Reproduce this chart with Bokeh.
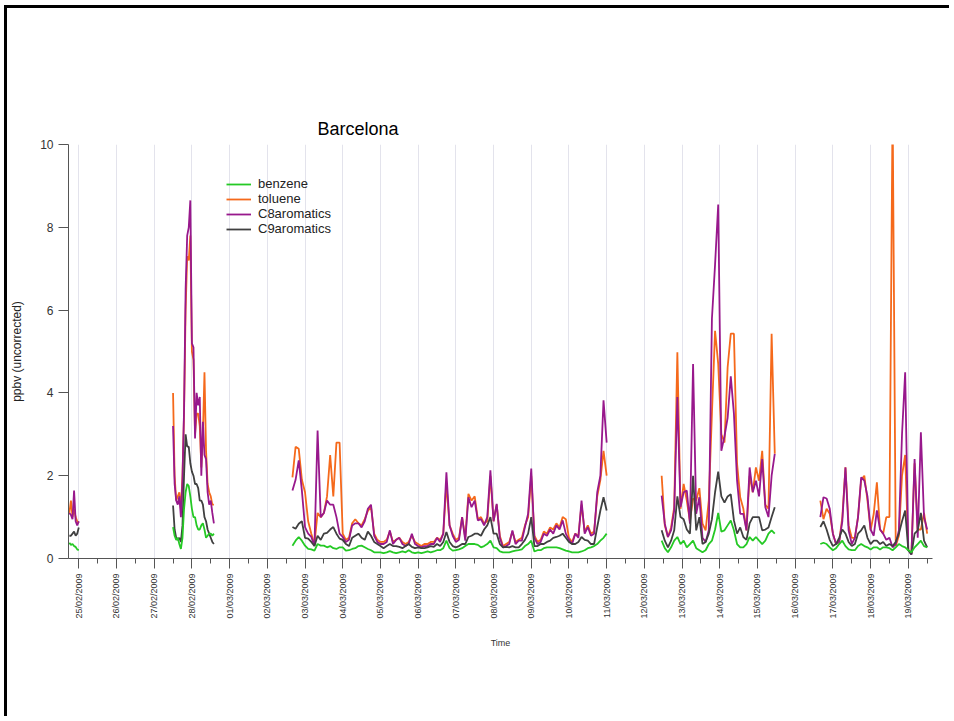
import math
from bokeh.plotting import figure
from bokeh.models import Range1d, FixedTicker, Legend, LegendItem
from bokeh.embed import file_html
from bokeh.resources import INLINE

# ---------------- data ----------------
# tick labels (one per day, midnight)
tick_labels = ["25/02/2009", "26/02/2009", "27/02/2009", "28/02/2009", "01/03/2009",
               "02/03/2009", "03/03/2009", "04/03/2009", "05/03/2009", "06/03/2009",
               "07/03/2009", "08/03/2009", "09/03/2009", "10/03/2009", "11/03/2009",
               "12/03/2009", "13/03/2009", "14/03/2009", "15/03/2009", "16/03/2009",
               "17/03/2009", "18/03/2009", "19/03/2009"]

# sampling of each measurement segment: (start hour after 25/02/2009 00:00, step in hours)
segment_start_h = [-6, 60, 136, 371, 472]
segment_step_h = [1, 1, 2, 2, 2]

benzene = [
    [0.38, 0.33, 0.35, 0.30, 0.28, 0.22, 0.20],
    [0.76, 0.55, 0.45, 0.5, 0.35, 0.23, 0.5, 1.2, 1.6, 1.8,
     1.75, 1.5, 1.2, 1.0, 1.0, 0.8, 0.7, 0.7, 0.8, 0.85,
     0.7, 0.5, 0.55, 0.6, 0.6, 0.55, 0.6],
    [0.31, 0.43, 0.52, 0.43, 0.31, 0.23, 0.22, 0.19, 0.35, 0.31,
     0.31, 0.27, 0.3, 0.25, 0.23, 0.27, 0.27, 0.19, 0.2, 0.23,
     0.25, 0.3, 0.31, 0.27, 0.23, 0.2, 0.15, 0.15, 0.15, 0.13,
     0.15, 0.18, 0.15, 0.13, 0.15, 0.17, 0.15, 0.2, 0.15, 0.13,
     0.15, 0.13, 0.15, 0.17, 0.15, 0.17, 0.2, 0.2, 0.25, 0.43,
     0.25, 0.19, 0.2, 0.22, 0.25, 0.3, 0.35, 0.35, 0.35, 0.33,
     0.27, 0.3, 0.35, 0.43, 0.27, 0.25, 0.17, 0.15, 0.15, 0.15,
     0.17, 0.19, 0.2, 0.22, 0.3, 0.35, 0.43, 0.17, 0.2, 0.2,
     0.25, 0.27, 0.27, 0.27, 0.27, 0.25, 0.22, 0.19, 0.17, 0.15,
     0.15, 0.15, 0.17, 0.2, 0.25, 0.27, 0.3, 0.35, 0.43, 0.5,
     0.6],
    [0.43, 0.25, 0.15, 0.27, 0.43, 0.52, 0.35, 0.43, 0.27, 0.35,
     0.43, 0.25, 0.2, 0.15, 0.2, 0.35, 0.43, 0.7, 1.1, 0.65,
     0.68, 0.8, 0.92, 0.68, 0.35, 0.27, 0.27, 0.35, 0.52, 0.43,
     0.52, 0.43, 0.35, 0.43, 0.6, 0.68, 0.6],
    [0.35, 0.38, 0.35, 0.27, 0.2, 0.25, 0.35, 0.43, 0.3, 0.22,
     0.2, 0.2, 0.3, 0.35, 0.3, 0.27, 0.22, 0.27, 0.27, 0.22,
     0.27, 0.27, 0.25, 0.2, 0.27, 0.35, 0.3, 0.27, 0.2, 0.15,
     0.27, 0.35, 0.43, 0.3, 0.27],
]

toluene = [
    [1.1, 1.4, 1.0, 1.2, 1.0, 0.9, 0.85],
    [4.0, 2.0, 1.4, 1.5, 1.6, 1.2, 2.0, 3.5, 6.0, 7.3,
     7.2, 7.8, 5.0, 4.8, 3.0, 3.5, 3.5, 3.2, 2.2, 3.0,
     4.5, 2.6, 1.8, 1.6, 1.5, 1.3, 1.3],
    [1.96, 2.7, 2.65, 1.9, 1.6, 0.9, 0.6, 0.35, 1.1, 1.0,
     1.1, 1.5, 2.5, 1.5, 2.8, 2.8, 0.6, 0.45, 0.5, 0.85,
     0.95, 0.85, 0.8, 0.95, 1.15, 1.25, 0.6, 0.45, 0.4, 0.4,
     0.45, 0.65, 0.4, 0.45, 0.5, 0.4, 0.35, 0.4, 0.55, 0.4,
     0.35, 0.3, 0.35, 0.35, 0.4, 0.4, 0.5, 0.45, 0.6, 1.8,
     0.8, 0.6, 0.45, 0.5, 1.0, 0.5, 1.56, 1.4, 1.5, 0.95,
     1.0, 0.85, 0.9, 2.0, 0.9, 1.3, 0.55, 0.3, 0.35, 0.4,
     0.65, 0.4, 0.45, 0.5, 0.8, 1.0, 2.0, 0.55, 0.4, 0.45,
     0.65, 0.6, 0.75, 0.7, 0.85, 0.75, 1.0, 0.95, 0.5, 0.4,
     0.6, 0.55, 1.3, 0.65, 0.8, 0.6, 0.65, 1.5, 1.9, 2.6,
     2.0],
    [2.0, 0.8, 0.52, 0.75, 1.24, 4.98, 1.2, 1.8, 1.4, 0.9,
     1.45, 1.4, 1.7, 0.84, 0.68, 1.4, 3.5, 5.5, 4.7, 3.0,
     2.8, 4.62, 5.43, 5.43, 2.29, 1.48, 1.2, 0.68, 2.0, 1.6,
     2.2, 1.88, 2.6, 1.3, 1.2, 5.43, 2.53],
    [1.4, 0.95, 1.2, 1.08, 0.6, 0.35, 0.4, 1.0, 2.2, 0.8,
     0.5, 0.5, 1.0, 1.9, 2.0, 1.4, 0.68, 1.08, 1.84, 0.7,
     0.6, 1.0, 1.0, 11.0, 0.3, 0.55, 2.0, 2.5, 0.2, 0.12,
     2.3, 0.7, 0.7, 1.1, 0.6],
]

c8_aromatics = [
    [1.1, 1.05, 0.95, 1.64, 0.9, 0.8, 0.9],
    [3.2, 1.8, 1.4, 1.3, 1.5, 1.0, 1.9, 3.6, 6.5, 7.8,
     8.0, 8.65, 5.2, 5.1, 2.9, 4.0, 3.7, 3.9, 2.0, 3.3,
     2.5, 2.4, 1.6, 1.3, 1.4, 1.1, 0.85],
    [1.64, 1.9, 2.37, 1.64, 0.76, 0.6, 0.52, 0.3, 3.09, 1.0,
     1.1, 1.4, 1.3, 1.3, 1.0, 0.6, 0.52, 0.4, 0.45, 0.8,
     0.85, 0.85, 0.75, 0.9, 1.2, 1.3, 0.55, 0.4, 0.35, 0.35,
     0.4, 0.68, 0.35, 0.45, 0.5, 0.35, 0.3, 0.35, 0.6, 0.35,
     0.3, 0.27, 0.3, 0.3, 0.35, 0.35, 0.5, 0.4, 0.6, 2.08,
     0.8, 0.55, 0.4, 0.45, 1.0, 0.43, 1.48, 1.24, 1.4, 0.92,
     0.95, 0.8, 1.0, 2.13, 0.9, 1.32, 0.5, 0.27, 0.3, 0.35,
     0.68, 0.35, 0.43, 0.43, 0.76, 1.08, 2.17, 0.5, 0.35, 0.4,
     0.6, 0.55, 0.7, 0.6, 0.8, 0.7, 0.92, 0.6, 0.45, 0.35,
     0.6, 0.5, 1.4, 0.6, 0.76, 0.55, 0.6, 1.6, 2.0, 3.82,
     2.8],
    [1.52, 0.84, 0.52, 0.68, 1.16, 3.9, 1.24, 1.6, 1.64, 0.84,
     4.7, 1.08, 1.48, 0.5, 0.4, 0.68, 5.79, 7.1, 8.55, 2.6,
     2.95, 3.4, 4.4, 3.5, 1.88, 1.08, 1.08, 0.68, 2.2, 1.6,
     1.88, 1.5, 2.4, 1.24, 1.0, 2.0, 2.53],
    [1.0, 1.48, 1.45, 1.2, 0.6, 0.35, 0.4, 0.9, 2.2, 0.68,
     0.35, 0.5, 1.0, 1.96, 1.88, 1.5, 0.7, 0.55, 1.16, 0.7,
     0.6, 0.45, 0.5, 0.27, 0.35, 0.68, 3.0, 4.5, 0.2, 0.1,
     2.4, 0.5, 3.05, 1.0, 0.7],
]

c9_aromatics = [
    [0.55, 0.55, 0.6, 0.65, 0.55, 0.6, 0.75],
    [1.28, 0.7, 0.5, 0.45, 0.5, 0.4, 0.8, 2.0, 3.0, 2.7,
     2.7, 2.3, 2.1, 2.0, 1.8, 1.8, 1.7, 1.4, 1.4, 1.3,
     1.0, 0.9, 0.7, 0.6, 0.5, 0.4, 0.35],
    [0.76, 0.72, 0.84, 0.9, 0.5, 0.48, 0.4, 0.3, 0.55, 0.45,
     0.6, 0.62, 0.7, 0.76, 0.6, 0.48, 0.45, 0.35, 0.3, 0.5,
     0.55, 0.6, 0.5, 0.45, 0.65, 0.55, 0.4, 0.35, 0.3, 0.25,
     0.3, 0.35, 0.3, 0.3, 0.28, 0.25, 0.3, 0.35, 0.28, 0.25,
     0.27, 0.25, 0.25, 0.27, 0.3, 0.28, 0.35, 0.3, 0.4, 0.64,
     0.4, 0.3, 0.27, 0.3, 0.35, 0.35, 0.52, 0.55, 0.6, 0.6,
     0.55, 0.7, 0.8, 1.0, 0.6, 0.6, 0.35, 0.27, 0.28, 0.27,
     0.3, 0.27, 0.27, 0.35, 0.45, 0.6, 1.0, 0.3, 0.3, 0.35,
     0.35, 0.4, 0.43, 0.5, 0.52, 0.55, 0.6, 0.5, 0.4, 0.35,
     0.35, 0.4, 0.52, 0.45, 0.43, 0.35, 0.35, 0.76, 1.16, 1.48,
     1.16],
    [0.68, 0.43, 0.27, 0.43, 0.68, 1.5, 1.0, 0.95, 0.7, 0.6,
     2.0, 0.68, 1.0, 0.35, 0.4, 0.6, 0.95, 1.6, 2.1, 1.5,
     1.35, 1.5, 1.55, 0.92, 0.6, 0.75, 0.52, 0.45, 0.85, 1.0,
     1.0, 1.0, 0.68, 0.7, 0.75, 1.0, 1.24],
    [0.76, 0.9, 0.7, 0.45, 0.3, 0.35, 0.5, 0.7, 0.6, 0.4,
     0.3, 0.35, 0.6, 0.68, 0.8, 0.5, 0.35, 0.43, 0.43, 0.35,
     0.4, 0.3, 0.35, 0.3, 0.4, 0.6, 0.9, 1.16, 0.2, 0.1,
     0.6, 0.68, 1.1, 0.43, 0.27],
]

series_names = ["benzene", "toluene", "C8aromatics", "C9aromatics"]
series_colors = ["#25c925", "#f5691b", "#98188c", "#404040"]

# ---------------- build ----------------
FONT = "Liberation Sans"


def build(segments):
    xs, ys = [], []
    for start, step, vals in zip(segment_start_h, segment_step_h, segments):
        if xs:
            xs.append(float("nan"))
            ys.append(float("nan"))
        for i, v in enumerate(vals):
            xs.append(start + i * step)
            ys.append(v)
    return xs, ys


p = figure(width=945, height=711, output_backend="svg", toolbar_location=None,
           x_range=Range1d(-6.55, 543.4), y_range=Range1d(0, 10),
           min_border_left=60, min_border_right=20, min_border_top=136,
           min_border_bottom=161)
p.styles = {"border-top": "3px solid black", "border-left": "3px solid black",
            "margin-top": "5px", "margin-left": "4px"}
p.outline_line_color = None
p.background_fill_color = "white"
p.border_fill_color = "white"

p.title.text = "Barcelona"
p.title.align = "left"
p.title.offset = 249
p.title.text_font = FONT
p.title.text_font_size = "18px"
p.title.text_font_style = "normal"
p.title.text_color = "black"
p.title.standoff = 11

major = [i * 24 for i in range(len(tick_labels))]
minor = [i * 24 + 12 for i in range(-1, len(tick_labels))]
xticker = FixedTicker(ticks=major, minor_ticks=minor)

xa = p.xaxis[0]
xa.ticker = xticker
xa.major_label_overrides = {t: lab for t, lab in zip(major, tick_labels)}
xa.major_label_orientation = math.pi / 2
xa.major_label_text_font = FONT
xa.major_label_text_font_size = "9px"
xa.major_label_text_color = "#333333"
xa.major_label_standoff = 5
xa.major_tick_out = 10
xa.major_tick_in = 0
xa.minor_tick_out = 5
xa.minor_tick_in = 0
xa.axis_line_color = "#555555"
xa.major_tick_line_color = "#555555"
xa.minor_tick_line_color = "#555555"
xa.axis_label = "Time"
xa.axis_label_text_font = FONT
xa.axis_label_text_font_size = "9px"
xa.axis_label_text_font_style = "normal"
xa.axis_label_text_color = "#333333"
xa.axis_label_standoff = 16

ya = p.yaxis[0]
ya.ticker = FixedTicker(ticks=[0, 2, 4, 6, 8, 10])
ya.major_tick_out = 10
ya.major_tick_in = 0
ya.minor_tick_line_color = None
ya.axis_line_color = "#555555"
ya.major_tick_line_color = "#555555"
ya.major_label_text_font = FONT
ya.major_label_text_font_size = "12px"
ya.major_label_text_color = "#333333"
ya.major_label_standoff = 5
ya.axis_label = "ppbv (uncorrected)"
ya.axis_label_text_font = FONT
ya.axis_label_text_font_size = "12px"
ya.axis_label_text_font_style = "normal"
ya.axis_label_text_color = "#222222"
ya.axis_label_standoff = 13

p.xgrid.ticker = xticker
p.xgrid.grid_line_color = "#e3e3ec"
p.xgrid.grid_line_width = 1
p.ygrid.grid_line_color = None

data = dict(zip(series_names, [benzene, toluene, c8_aromatics, c9_aromatics]))
colors = dict(zip(series_names, series_colors))
renderers = {}
for name in ["toluene", "C8aromatics", "C9aromatics", "benzene"]:
    xs, ys = build(data[name])
    renderers[name] = p.line(xs, ys, line_color=colors[name], line_width=1.8)

legend = Legend(items=[LegendItem(label=n, renderers=[renderers[n]]) for n in series_names],
                location=(158, 322))
legend.background_fill_alpha = 0
legend.border_line_color = None
legend.padding = 0
legend.margin = 0
legend.spacing = 0
legend.glyph_width = 25
legend.glyph_height = 14
legend.label_height = 14
legend.label_standoff = 7
legend.label_text_font = FONT
legend.label_text_font_size = "13px"
legend.label_text_color = "#222222"
p.add_layout(legend)

open("out.html", "w").write(file_html(p, INLINE))
